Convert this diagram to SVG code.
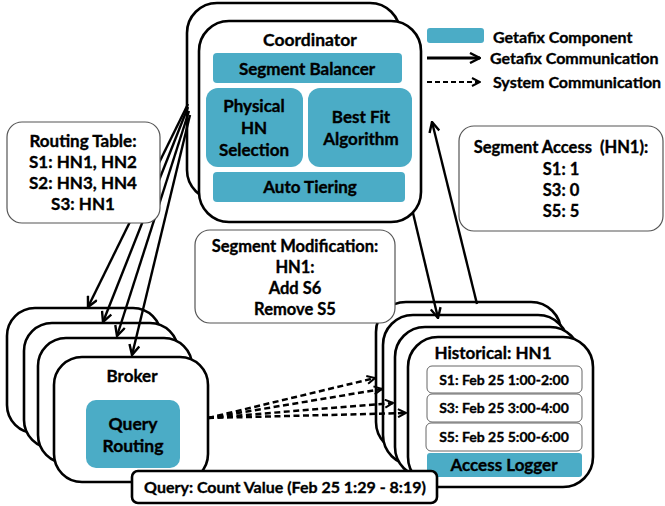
<svg xmlns="http://www.w3.org/2000/svg" width="665" height="506" viewBox="0 0 665 506">
  <style>
    text { font-family: Lato, "Liberation Sans", sans-serif; font-weight: bold; fill: #000; stroke: #000; stroke-width: 0.35; text-anchor: middle; }
    .box { fill: #fff; stroke: #000; stroke-width: 2.6; }
    .note { fill: #fff; stroke: #555; stroke-width: 1.2; }
    .comp { fill: #4BACC6; }
    .row { fill: #fff; stroke: #666; stroke-width: 1; }
    .t18 { font-size: 17.5px; }
    .t17 { font-size: 17px; }
    .t165 { font-size: 16.5px; }
    .t16 { font-size: 16px; }
    .t14 { font-size: 14px; }
    .lg { font-size: 16px; text-anchor: start; }
    .solid { fill: none; stroke: #000; stroke-width: 2.4; marker-end: url(#arr); }
    .dash { fill: none; stroke: #000; stroke-width: 2.5; stroke-dasharray: 6 3.5; marker-end: url(#arrd); }
  </style>
  <defs>
    <marker id="arr" viewBox="0 0 12 12" refX="11" refY="6" markerWidth="12" markerHeight="12" markerUnits="userSpaceOnUse" orient="auto">
      <path d="M1,1 L11,6 L1,11" fill="none" stroke="#000" stroke-width="2.4"/>
    </marker>
    <marker id="arrd" viewBox="0 0 10 10" refX="9" refY="5" markerWidth="10" markerHeight="10" markerUnits="userSpaceOnUse" orient="auto">
      <path d="M1,1 L9,5 L1,9" fill="none" stroke="#000" stroke-width="2"/>
    </marker>
  </defs>

  <!-- Coordinator node -->
  <g id="coordinator">
    <rect class="box" x="187" y="3" width="213" height="197" rx="30"/>
    <rect class="box" x="199" y="21" width="222" height="201" rx="30"/>
    <text class="t18" x="310" y="46">Coordinator</text>
    <rect class="comp" x="213" y="53" width="189" height="30" rx="4"/>
    <text class="t17" x="307" y="75">Segment Balancer</text>
    <rect class="comp" x="206" y="88" width="97" height="79" rx="12"/>
    <text class="t17" x="254" y="112">Physical</text>
    <text class="t17" x="254" y="134">HN</text>
    <text class="t17" x="254" y="156">Selection</text>
    <rect class="comp" x="308" y="88" width="104" height="79" rx="12"/>
    <text class="t17" x="361" y="123">Best Fit</text>
    <text class="t17" x="361" y="145">Algorithm</text>
    <rect class="comp" x="213" y="172" width="192" height="30" rx="4"/>
    <text class="t17" x="310" y="193">Auto Tiering</text>
  </g>

  <!-- Broker node stack -->
  <g id="broker">
    <rect class="box" x="7" y="308" width="154" height="125" rx="28"/>
    <rect class="box" x="24" y="323" width="154" height="125" rx="28"/>
    <rect class="box" x="38" y="338" width="154" height="125" rx="28"/>
    <rect class="box" x="54" y="357" width="154" height="125" rx="28"/>
    <text class="t17" x="132" y="382">Broker</text>
    <rect class="comp" x="86" y="400" width="94" height="68" rx="10"/>
    <text class="t18" x="133" y="430">Query</text>
    <text class="t18" x="133" y="452">Routing</text>
  </g>

  <!-- Historical node stack -->
  <g id="historical">
    <rect class="box" x="376" y="302" width="185" height="150" rx="30"/>
    <rect class="box" x="383" y="315" width="185" height="150" rx="30"/>
    <rect class="box" x="395" y="327" width="185" height="150" rx="30"/>
    <rect class="box" x="408" y="337" width="185" height="150" rx="30"/>
    <text class="t17" x="493" y="359">Historical: HN1</text>
    <rect class="row" x="427" y="366" width="155" height="27" rx="5"/>
    <text class="t14" x="504" y="385">S1: Feb 25 1:00-2:00</text>
    <rect class="row" x="427" y="394" width="155" height="28" rx="5"/>
    <text class="t14" x="504" y="413">S3: Feb 25 3:00-4:00</text>
    <rect class="row" x="426" y="423" width="156" height="28" rx="5"/>
    <text class="t14" x="504" y="442">S5: Feb 25 5:00-6:00</text>
    <rect class="comp" x="427" y="453" width="155" height="24" rx="3"/>
    <text class="t17" x="504" y="471">Access Logger</text>
  </g>

  <!-- Connectors -->
  <g id="connectors">
    <line class="solid" x1="188" y1="104" x2="88" y2="307"/>
    <line class="solid" x1="188" y1="107" x2="103" y2="322"/>
    <line class="solid" x1="189" y1="111" x2="117" y2="336"/>
    <line class="solid" x1="190" y1="115" x2="132" y2="355"/>
    <line class="dash" x1="208" y1="418" x2="375" y2="378"/>
    <line class="dash" x1="208" y1="418" x2="382" y2="389"/>
    <line class="dash" x1="208" y1="418" x2="393" y2="403"/>
    <line class="dash" x1="208" y1="418" x2="406" y2="413"/>
    <line class="solid" x1="413" y1="213" x2="438" y2="318"/>
    <line class="solid" x1="477" y1="304" x2="432" y2="122"/>
  </g>

  <!-- Callout notes -->
  <g id="routing-table">
    <rect class="note" x="7" y="122" width="153" height="101" rx="15"/>
    <text class="t17" x="83" y="147">Routing Table:</text>
    <text class="t17" x="83" y="168">S1: HN1, HN2</text>
    <text class="t17" x="83" y="189">S2: HN3, HN4</text>
    <text class="t17" x="83" y="210">S3: HN1</text>
  </g>
  <g id="segment-access">
    <rect class="note" x="459" y="126" width="204" height="105" rx="15"/>
    <text class="t165" x="561" y="153" xml:space="preserve">Segment Access  (HN1):</text>
    <text class="t165" x="561" y="175">S1: 1</text>
    <text class="t165" x="561" y="196">S3: 0</text>
    <text class="t165" x="561" y="217">S5: 5</text>
  </g>
  <g id="segment-modification">
    <rect class="note" x="195" y="230" width="200" height="93" rx="15"/>
    <text class="t165" x="295" y="252">Segment Modification:</text>
    <text class="t165" x="295" y="273">HN1:</text>
    <text class="t165" x="295" y="294">Add S6</text>
    <text class="t165" x="295" y="315">Remove S5</text>
  </g>

  <!-- Query label -->
  <g id="query">
    <rect class="box" x="132" y="471" width="305" height="32" rx="6"/>
    <text class="t16" x="285" y="493">Query: Count Value (Feb 25 1:29 - 8:19)</text>
  </g>

  <!-- Legend -->
  <g id="legend">
    <rect class="comp" x="427" y="28" width="57" height="15" rx="3"/>
    <text class="lg" x="493" y="43">Getafix Component</text>
    <line x1="427" y1="58" x2="480" y2="58" stroke="#000" stroke-width="3" marker-end="url(#arr)"/>
    <text class="lg" x="490" y="64">Getafix Communication</text>
    <line x1="427" y1="82" x2="480" y2="82" stroke="#000" stroke-width="2.2" stroke-dasharray="5 3" marker-end="url(#arrd)"/>
    <text class="lg" x="493" y="88">System Communication</text>
  </g>
</svg>
